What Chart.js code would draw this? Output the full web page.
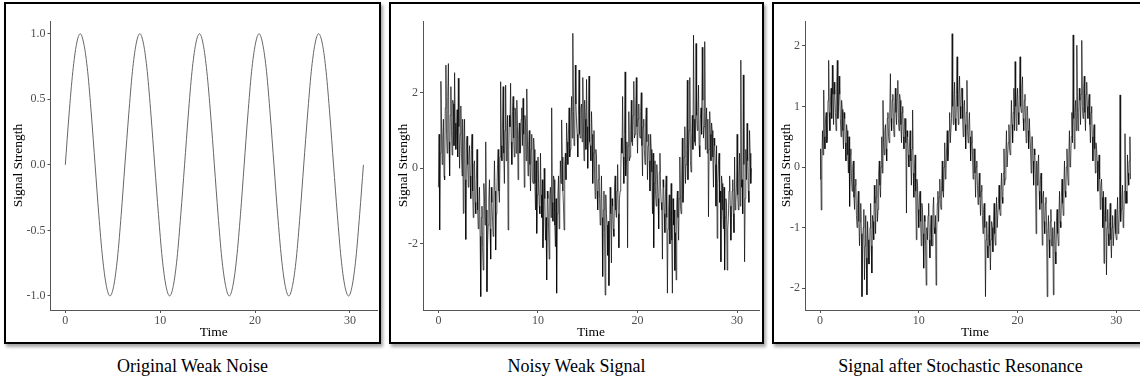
<!DOCTYPE html>
<html>
<head>
<meta charset="utf-8">
<script src="https://cdn.jsdelivr.net/npm/chart.js@4.4.1/dist/chart.umd.min.js"></script>
<style>
  html, body { margin: 0; padding: 0; background: #fff; overflow: hidden; }
  body { width: 1140px; height: 383px; position: relative; font-family: "Liberation Serif", serif; }
  .panel { position: absolute; top: 2px; height: 338px; border: 2px solid #000; box-shadow: 2px 3px 3px rgba(0,0,0,0.35); background: #fff; }
  .panel canvas { display: block; }
  .caption { position: absolute; top: 356px; font-size: 18px; text-align: center; color: #000; white-space: nowrap; }
</style>
</head>
<body>
<div class="panel" style="left:4px;width:373px"><canvas id="c1" width="373" height="338"></canvas></div>
<div class="panel" style="left:389px;width:371px"><canvas id="c2" width="371" height="338"></canvas></div>
<div class="panel" style="left:772px;width:380px"><canvas id="c3" width="380" height="338"></canvas></div>
<div class="caption" style="left:4px;width:377px">Original Weak Noise</div>
<div class="caption" style="left:389px;width:375px">Noisy Weak Signal</div>
<div class="caption" style="left:772px;width:377px">Signal after Stochastic Resonance</div>
<script>
// time axis of the clean sine (steps of pi/8)
const timeClean = [0, 0.39, 0.79, 1.18, 1.57, 1.96, 2.36, 2.75, 3.14, 3.53, 3.93, 4.32, 4.71, 5.11, 5.50, 5.89,
  6.28, 6.68, 7.07, 7.46, 7.85, 8.25, 8.64, 9.03, 9.42, 9.82, 10.21, 10.60, 11.00, 11.39, 11.78, 12.17,
  12.57, 12.96, 13.35, 13.74, 14.14, 14.53, 14.92, 15.32, 15.71, 16.10, 16.49, 16.89, 17.28, 17.67, 18.06, 18.46,
  18.85, 19.24, 19.63, 20.03, 20.42, 20.81, 21.21, 21.60, 21.99, 22.38, 22.78, 23.17, 23.56, 23.95, 24.35, 24.74,
  25.13, 25.53, 25.92, 26.31, 26.70, 27.10, 27.49, 27.88, 28.27, 28.67, 29.06, 29.45, 29.85, 30.24, 30.63, 31.02,
  31.42];
const weakSignal = [0, 0.38, 0.71, 0.92, 1, 0.92, 0.71, 0.38, 0, -0.38, -0.71, -0.92, -1, -0.92, -0.71, -0.38,
  0, 0.38, 0.71, 0.92, 1, 0.92, 0.71, 0.38, 0, -0.38, -0.71, -0.92, -1, -0.92, -0.71, -0.38,
  0, 0.38, 0.71, 0.92, 1, 0.92, 0.71, 0.38, 0, -0.38, -0.71, -0.92, -1, -0.92, -0.71, -0.38,
  0, 0.38, 0.71, 0.92, 1, 0.92, 0.71, 0.38, 0, -0.38, -0.71, -0.92, -1, -0.92, -0.71, -0.38,
  0, 0.38, 0.71, 0.92, 1, 0.92, 0.71, 0.38, 0, -0.38, -0.71, -0.92, -1, -0.92, -0.71, -0.38,
  0];

// time axis of the two noisy series (one row per time unit)
const timeNoisy = [
  0, 0.0625, 0.125, 0.1875, 0.25, 0.3125, 0.375, 0.4375, 0.5, 0.5625, 0.625, 0.6875, 0.75, 0.8125, 0.875, 0.9375,
  1, 1.0625, 1.125, 1.1875, 1.25, 1.3125, 1.375, 1.4375, 1.5, 1.5625, 1.625, 1.6875, 1.75, 1.8125, 1.875, 1.9375,
  2, 2.0625, 2.125, 2.1875, 2.25, 2.3125, 2.375, 2.4375, 2.5, 2.5625, 2.625, 2.6875, 2.75, 2.8125, 2.875, 2.9375,
  3, 3.0625, 3.125, 3.1875, 3.25, 3.3125, 3.375, 3.4375, 3.5, 3.5625, 3.625, 3.6875, 3.75, 3.8125, 3.875, 3.9375,
  4, 4.0625, 4.125, 4.1875, 4.25, 4.3125, 4.375, 4.4375, 4.5, 4.5625, 4.625, 4.6875, 4.75, 4.8125, 4.875, 4.9375,
  5, 5.0625, 5.125, 5.1875, 5.25, 5.3125, 5.375, 5.4375, 5.5, 5.5625, 5.625, 5.6875, 5.75, 5.8125, 5.875, 5.9375,
  6, 6.0625, 6.125, 6.1875, 6.25, 6.3125, 6.375, 6.4375, 6.5, 6.5625, 6.625, 6.6875, 6.75, 6.8125, 6.875, 6.9375,
  7, 7.0625, 7.125, 7.1875, 7.25, 7.3125, 7.375, 7.4375, 7.5, 7.5625, 7.625, 7.6875, 7.75, 7.8125, 7.875, 7.9375,
  8, 8.0625, 8.125, 8.1875, 8.25, 8.3125, 8.375, 8.4375, 8.5, 8.5625, 8.625, 8.6875, 8.75, 8.8125, 8.875, 8.9375,
  9, 9.0625, 9.125, 9.1875, 9.25, 9.3125, 9.375, 9.4375, 9.5, 9.5625, 9.625, 9.6875, 9.75, 9.8125, 9.875, 9.9375,
  10, 10.0625, 10.125, 10.1875, 10.25, 10.3125, 10.375, 10.4375, 10.5, 10.5625, 10.625, 10.6875, 10.75, 10.8125, 10.875, 10.9375,
  11, 11.0625, 11.125, 11.1875, 11.25, 11.3125, 11.375, 11.4375, 11.5, 11.5625, 11.625, 11.6875, 11.75, 11.8125, 11.875, 11.9375,
  12, 12.0625, 12.125, 12.1875, 12.25, 12.3125, 12.375, 12.4375, 12.5, 12.5625, 12.625, 12.6875, 12.75, 12.8125, 12.875, 12.9375,
  13, 13.0625, 13.125, 13.1875, 13.25, 13.3125, 13.375, 13.4375, 13.5, 13.5625, 13.625, 13.6875, 13.75, 13.8125, 13.875, 13.9375,
  14, 14.0625, 14.125, 14.1875, 14.25, 14.3125, 14.375, 14.4375, 14.5, 14.5625, 14.625, 14.6875, 14.75, 14.8125, 14.875, 14.9375,
  15, 15.0625, 15.125, 15.1875, 15.25, 15.3125, 15.375, 15.4375, 15.5, 15.5625, 15.625, 15.6875, 15.75, 15.8125, 15.875, 15.9375,
  16, 16.0625, 16.125, 16.1875, 16.25, 16.3125, 16.375, 16.4375, 16.5, 16.5625, 16.625, 16.6875, 16.75, 16.8125, 16.875, 16.9375,
  17, 17.0625, 17.125, 17.1875, 17.25, 17.3125, 17.375, 17.4375, 17.5, 17.5625, 17.625, 17.6875, 17.75, 17.8125, 17.875, 17.9375,
  18, 18.0625, 18.125, 18.1875, 18.25, 18.3125, 18.375, 18.4375, 18.5, 18.5625, 18.625, 18.6875, 18.75, 18.8125, 18.875, 18.9375,
  19, 19.0625, 19.125, 19.1875, 19.25, 19.3125, 19.375, 19.4375, 19.5, 19.5625, 19.625, 19.6875, 19.75, 19.8125, 19.875, 19.9375,
  20, 20.0625, 20.125, 20.1875, 20.25, 20.3125, 20.375, 20.4375, 20.5, 20.5625, 20.625, 20.6875, 20.75, 20.8125, 20.875, 20.9375,
  21, 21.0625, 21.125, 21.1875, 21.25, 21.3125, 21.375, 21.4375, 21.5, 21.5625, 21.625, 21.6875, 21.75, 21.8125, 21.875, 21.9375,
  22, 22.0625, 22.125, 22.1875, 22.25, 22.3125, 22.375, 22.4375, 22.5, 22.5625, 22.625, 22.6875, 22.75, 22.8125, 22.875, 22.9375,
  23, 23.0625, 23.125, 23.1875, 23.25, 23.3125, 23.375, 23.4375, 23.5, 23.5625, 23.625, 23.6875, 23.75, 23.8125, 23.875, 23.9375,
  24, 24.0625, 24.125, 24.1875, 24.25, 24.3125, 24.375, 24.4375, 24.5, 24.5625, 24.625, 24.6875, 24.75, 24.8125, 24.875, 24.9375,
  25, 25.0625, 25.125, 25.1875, 25.25, 25.3125, 25.375, 25.4375, 25.5, 25.5625, 25.625, 25.6875, 25.75, 25.8125, 25.875, 25.9375,
  26, 26.0625, 26.125, 26.1875, 26.25, 26.3125, 26.375, 26.4375, 26.5, 26.5625, 26.625, 26.6875, 26.75, 26.8125, 26.875, 26.9375,
  27, 27.0625, 27.125, 27.1875, 27.25, 27.3125, 27.375, 27.4375, 27.5, 27.5625, 27.625, 27.6875, 27.75, 27.8125, 27.875, 27.9375,
  28, 28.0625, 28.125, 28.1875, 28.25, 28.3125, 28.375, 28.4375, 28.5, 28.5625, 28.625, 28.6875, 28.75, 28.8125, 28.875, 28.9375,
  29, 29.0625, 29.125, 29.1875, 29.25, 29.3125, 29.375, 29.4375, 29.5, 29.5625, 29.625, 29.6875, 29.75, 29.8125, 29.875, 29.9375,
  30, 30.0625, 30.125, 30.1875, 30.25, 30.3125, 30.375, 30.4375, 30.5, 30.5625, 30.625, 30.6875, 30.75, 30.8125, 30.875, 30.9375,
  31, 31.0625, 31.125, 31.1875, 31.25, 31.3125, 31.375, 31.4375];

const noisySignal = [
  -0.5, 0.9, -1.63, 0.4, 2.3, 1.1, 0.1, 0.8, 1.3, -0.2, -0.3, 1.6, 2.73, 0.9, 0.4, 1.9,
  2.77, 0.7, -0.2, 1.4, 2.16, 1.0, 0.35, 1.8, 1.7, 0.6, 2.53, 1.2, 0.5, 0.9, 1.55, 0.3,
  2.38, 1.1, 0.0, 0.9, 1.65, 0.4, -0.2, 1.3, -1.19, 0.6, 1.3, -0.3, -1.88, 0.7, 0.85, 0.1,
  -0.5, 0.3, 0.6, -0.2, -0.8, 0.5, 0.9, -0.6, -1.3, 0.1, 0.2, -0.9, -1.2, -0.3, 0.5, -1.1,
  -1.6, -0.9, -0.5, -1.8, -3.39, -1.3, -1.0, -2.1, -2.69, -0.4, -0.8, -1.5, 0.7, -1.1, -3.26, -2.0,
  -1.5, -0.8, -0.3, -1.6, -2.4, -0.5, -0.9, -1.4, -1.8, -0.9, 0.2, -0.6, -2.16, -1.2, -0.6, 0.1,
  0.5, -0.6, -0.9, 0.3, 2.29, 0.6, 0.2, 1.2, 2.16, 0.4, -0.4, 1.0, 2.2, 0.2, 0.6, 1.4,
  -1.63, 0.5, 1.4, 1.1, 2.25, 0.7, 0.1, 1.5, 1.9, 0.8, 0.3, 1.6, 1.5, 0.4, 1.8, 1.1,
  -0.3, 0.9, 1.2, 0.4, 0.5, 1.3, 1.6, 0.6, 1.85, 0.9, -0.5, 1.4, 1.2, 0.2, 2.1, 0.8,
  -0.2, 0.6, 1.0, 0.1, -0.6, 0.5, 0.9, -0.3, -0.4, 0.8, 0.5, -0.4, -1.1, 0.2, -1.72, -0.7,
  0.3, -0.4, -1.0, -1.2, 0.4, -0.7, -1.3, -0.3, -2.1, -1.5, 0.0, -0.8, -1.9, -1.3, -2.95, -0.6,
  -0.8, -1.6, -2.4, -0.7, -0.5, -1.3, 1.6, -0.9, -1.4, -0.2, -0.3, -1.5, -2.07, -0.8, -3.3, -1.2,
  -0.7, -0.2, -1.6, -0.9, 0.2, -0.4, 1.28, 0.3, -0.6, -1.0, -1.63, 0.1, 0.4, -0.3, 1.2, 0.7,
  0.1, 0.9, 1.6, 0.3, 0.5, 1.2, 1.9, 0.8, 3.57, 1.5, 0.6, 0.7, 2.73, 1.7, 1.2, 0.9,
  0.3, 1.4, 2.6, 0.9, 0.8, 1.6, 1.7, 0.7, 2.4, 1.2, 0.2, 1.8, 1.3, 0.5, 2.35, 1.1,
  0.0, 1.2, 2.44, 0.7, 0.6, 0.2, 1.5, 0.9, -0.4, 0.4, 1.0, -0.2, -0.8, 0.5, 0.3, -0.6,
  -1.1, -0.3, 0.1, -0.8, -1.5, -0.9, -0.2, -1.3, -2.86, -1.1, -0.6, -1.7, -3.35, -0.7, -1.2, -1.5,
  -2.3, -1.4, -3.1, -1.9, -0.5, -1.2, -2.5, -0.8, -1.0, -1.6, -1.8, -0.5, -0.2, -1.1, -1.3, -0.6,
  0.1, -1.2, -2.1, -0.8, -0.6, -0.2, 0.8, 0.4, 1.9, 0.3, -0.4, 0.9, 2.55, -0.2, 0.2, 0.7,
  -2.1, 0.6, 1.5, 0.2, 0.3, 1.0, 1.8, 0.7, 0.6, 1.4, 2.3, 0.8, 0.9, 1.6, 2.4, 1.1,
  0.4, 1.3, 1.7, 0.9, 0.8, 1.5, 2.0, 0.6, -0.2, 1.1, 1.3, 0.5, 0.1, 1.2, 1.6, 0.7,
  -0.3, 0.6, 0.9, 0.2, -0.6, 0.9, 0.5, -0.1, -1.2, 0.4, -2.1, -0.4, 0.2, -0.7, -1.0, 0.1,
  -0.3, -0.8, -1.6, -0.1, 0.4, -0.5, -0.9, -1.1, -2.4, -0.3, -0.5, -1.2, -1.7, -0.6, -0.2, -1.3,
  -3.3, -1.6, -1.1, -0.7, -2.0, -1.3, -0.4, -1.9, -3.3, -0.8, -1.5, -1.1, -2.7, -1.7, -2.95, -0.9,
  -0.6, -1.3, -1.9, -0.8, 0.3, -1.0, -1.2, -0.2, 0.8, -0.9, -0.5, 0.3, 1.1, -0.4, 0.1, 0.5,
  2.33, -0.3, 0.4, 1.0, 2.4, 0.2, -0.1, 0.8, 1.4, 0.5, 3.52, 1.3, 0.7, 0.6, 3.3, 1.4,
  1.0, 1.5, 2.2, 0.6, 0.3, 1.3, 1.6, 0.9, 3.2, 1.8, 0.8, 1.1, 3.35, 0.5, 1.2, 1.6,
  0.4, 1.3, -1.28, 0.5, 1.5, 0.9, 0.2, 1.2, 1.0, 0.3, -0.5, 0.8, 0.6, 0.1, -1.0, 0.6,
  -1.85, -0.4, 0.1, 0.4, -0.9, -0.6, -2.47, -0.2, -0.4, -1.1, -1.6, -0.5, -2.69, -1.3, -0.8, -0.9,
  -2.69, -1.6, -1.3, -0.6, -0.2, -1.0, -1.9, -1.3, -0.6, -0.3, -1.2, -1.7, 0.3, -1.1, -0.9, -0.5,
  0.9, -0.7, -1.1, -0.2, 0.4, -1.0, 2.86, -0.5, -0.3, -1.2, 2.47, 0.1, -2.47, -0.8, 0.5, -0.3,
  1.19, 0.2, -0.6, -0.9, 1.0, 0.4, -0.4, 0.0];

const resonanceSignal = [
  -0.2, 0.3, -0.71, 0.1, 0.6, 0.2, 1.27, 0.5, 0.3, 0.8, 0.9, 0.4, 0.45, 1.1, 1.76, 0.9,
  0.6, 1.1, 1.3, 0.8, 1.68, 1.2, 0.7, 1.4, 1.2, 0.9, 0.6, 1.3, 1.76, 0.8, 1.0, 1.5,
  1.2, 0.8, 0.5, 1.1, 0.95, 0.6, 0.3, 0.9, 0.8, 0.4, 0.1, 0.7, 0.6, 0.2, -0.1, 0.5,
  -0.65, 0.2, 0.3, -0.2, -0.4, 0.0, 0.1, -0.5, -0.7, -0.3, -0.2, -0.8, -1.0, -0.6, -0.4, -0.9,
  -1.3, -0.9, -0.6, -1.1, -2.14, -1.4, -1.0, -0.7, -1.86, -1.3, -0.8, -1.5, -2.11, -0.9, -1.2, -1.6,
  -1.6, -1.0, -0.6, -1.3, -1.75, -0.8, -0.9, -1.2, -0.3, -0.6, -1.1, -0.5, -0.2, -0.9, -0.7, -0.1,
  0.1, -0.3, -0.5, 0.0, 0.5, -0.1, 1.1, 0.4, 0.2, 0.6, 0.7, 0.3, 0.1, 0.8, 0.9, 0.5,
  0.4, 0.9, 1.54, 0.8, 0.6, 1.1, 1.2, 0.7, 0.5, 1.0, 1.3, 0.9, 0.7, 1.2, 1.43, 0.8,
  0.6, 1.2, 1.1, 0.7, 0.4, 0.9, 1.0, 0.5, 0.3, 0.8, 0.8, 0.4, -0.76, 0.6, 0.5, 0.2,
  0.0, 0.4, 0.6, 0.1, -0.3, 0.3, 0.94, -0.1, -0.5, 0.0, 0.2, -0.4, -1.2, -0.2, -0.3, -0.7,
  -1.0, -0.5, -0.4, -0.9, -1.3, -0.6, -0.7, -1.1, -1.67, -0.8, -0.9, -1.3, -1.95, -1.0, -1.2, -0.8,
  -0.6, -1.2, -1.5, -1.0, -0.8, -1.3, -1.3, -0.7, -0.5, -1.0, -1.1, -0.8, -1.95, -1.1, -0.6, -0.4,
  -0.9, -0.5, -0.2, -0.6, -0.7, -0.3, 0.1, -0.4, -0.5, 0.0, 0.4, -0.2, -0.1, 0.3, 0.6, 0.1,
  0.2, 0.6, 0.9, 0.4, 0.4, 0.8, 2.2, 1.0, 0.7, 1.1, 1.4, 0.8, 0.6, 1.2, 1.82, 1.0,
  0.7, 1.2, 1.5, 1.0, 0.8, 1.3, 1.3, 0.8, 0.5, 1.0, 1.1, 0.7, 0.3, 0.9, 1.43, 0.6,
  0.4, 0.7, 0.9, 0.5, 0.1, 0.4, 0.6, 0.2, -0.2, 0.3, 0.3, -0.1, -0.5, 0.0, 0.1, -0.3,
  -0.62, -0.3, -0.1, -0.5, -0.8, -0.4, -0.3, -0.8, -1.1, -0.7, -0.6, -1.0, -2.14, -1.2, -0.9, -1.3,
  -1.5, -1.1, -0.8, -1.3, -1.7, -1.2, -0.9, -1.0, -1.4, -0.9, -0.6, -1.1, -1.29, -0.8, -0.5, -1.0,
  -1.0, -0.6, -0.3, -0.7, -0.8, -0.4, -0.1, -0.5, -0.6, -0.1, 0.3, -0.3, -0.2, 0.2, 0.6, 0.0,
  0.0, 0.4, 0.7, 0.3, 0.2, 0.6, 1.1, 0.7, 0.4, 0.9, 1.3, 0.6, 1.74, 1.0, 0.6, 1.1,
  1.3, 0.9, 0.7, 1.2, 1.82, 1.0, 0.9, 1.3, 1.49, 0.8, 0.6, 1.1, 1.2, 0.7, 0.4, 1.0,
  1.0, 0.6, 0.3, 0.8, 0.8, 0.3, -0.1, 0.5, 0.5, 0.1, -0.3, 0.3, 0.2, -0.2, -1.1, 0.1,
  -0.3, 0.0, 0.2, -0.4, -0.7, -0.2, -0.1, -0.6, -1.29, -0.5, -0.4, -0.9, -1.1, -0.6, -0.5, -1.0,
  -2.14, -1.1, -0.8, -1.2, -1.5, -0.9, -0.7, -1.3, -1.3, -1.0, -2.11, -1.2, -0.9, -1.4, -1.6, -0.9,
  -0.7, -1.1, -1.3, -0.8, -0.4, -0.9, -1.0, -0.5, -0.2, -0.6, -0.8, -0.3, 0.1, -0.4, -0.5, 0.0,
  0.3, -0.1, -0.3, 0.2, 0.6, 0.0, 0.1, 0.5, 0.9, 0.4, 2.18, 0.8, 0.3, 0.9, 1.1, 0.6,
  2.01, 1.0, 0.6, 0.9, 1.3, 1.1, 0.7, 1.2, 2.09, 1.0, 0.8, 1.3, 1.5, 0.9, 0.6, 1.2,
  1.4, 1.0, 0.8, 1.1, 1.2, 0.7, 0.4, 0.9, 1.0, 0.5, 0.1, 0.6, 0.7, 0.3, -0.1, 0.4,
  0.3, 0.1, -0.4, 0.0, 0.2, -0.2, -0.7, -0.3, -0.2, -0.5, -1.0, -0.4, -1.59, -0.8, -0.5, -0.9,
  -1.78, -1.0, -0.7, -1.1, -1.3, -0.9, -0.6, -1.2, -1.5, -1.0, -0.8, -1.3, -1.3, -0.9, -0.7, -1.1,
  -1.2, -0.8, -0.5, -1.1, -1.0, -0.7, 1.19, -0.9, -0.7, -0.5, -0.3, -1.0, -0.87, -0.4, 0.55, -0.6,
  -0.4, -0.6, 0.2, -0.1, -0.3, 0.1, 0.5, -0.2];

const timeTicks = [0, 10, 20, 30];
const weakTicks = [-1, -0.5, 0, 0.5, 1];
const noisyTicks = [-2, 0, 2];
const resonanceTicks = [-2, -1, 0, 1, 2];

const serif = 'Liberation Serif';

function drawPanel(id, xs, ys, o) {
  const axisGrid = { drawOnChartArea: false, drawTicks: true, tickLength: 3, color: '#555', lineWidth: 1 };
  const axisBorder = { display: true, color: '#555', width: 1 };
  new Chart(document.getElementById(id), {
    type: 'line',
    data: {
      datasets: [{
        data: xs.map((t, i) => ({ x: t, y: ys[i] })),
        borderColor: o.color,
        borderWidth: o.width,
        pointRadius: 0,
        tension: 0,
        cubicInterpolationMode: o.smooth ? 'monotone' : 'default'
      }]
    },
    options: {
      responsive: false,
      animation: false,
      events: [],
      layout: { padding: { left: 0, top: 17, right: o.padR, bottom: 0 } },
      plugins: { legend: { display: false }, tooltip: { enabled: false } },
      scales: {
        x: {
          type: 'linear', min: o.xMin, max: o.xMax,
          afterBuildTicks: s => { s.ticks = timeTicks.map(v => ({ value: v })); },
          afterFit: s => { s.height = 32; },
          grid: axisGrid, border: axisBorder,
          ticks: { autoSkip: false, maxRotation: 0, padding: 1, color: '#4d4d4d', font: { family: serif, size: 12 } },
          title: { display: true, text: 'Time', color: '#000', font: { family: serif, size: 13.5 }, padding: { top: 0, bottom: 1 } }
        },
        y: {
          type: 'linear', min: o.yMin, max: o.yMax,
          afterBuildTicks: s => { s.ticks = o.yTicks.map(v => ({ value: v })); },
          afterFit: s => { s.width = o.yW; },
          grid: axisGrid, border: axisBorder,
          ticks: { padding: 2, color: '#4d4d4d', font: { family: serif, size: 12 }, callback: o.fmt },
          title: { display: true, text: 'Signal Strength', color: '#000', font: { family: serif, size: 13.5 }, padding: { top: 4, bottom: 0 } }
        }
      }
    }
  });
}

drawPanel('c1', timeClean, weakSignal, {
  color: '#666', width: 1, smooth: true, padR: 2, yW: 44.5,
  xMin: -1.56, xMax: 32.85, yMin: -1.107, yMax: 1.097, yTicks: weakTicks,
  fmt: v => v.toFixed(1)
});
drawPanel('c2', timeNoisy, noisySignal, {
  color: 'rgba(0,0,0,0.85)', width: 0.8, smooth: false, padR: 3, yW: 32,
  xMin: -1.55, xMax: 32.2, yMin: -3.745, yMax: 3.895, yTicks: noisyTicks,
  fmt: v => String(v)
});
drawPanel('c3', timeNoisy, resonanceSignal, {
  color: 'rgba(0,0,0,0.85)', width: 0.8, smooth: false, padR: 9, yW: 31,
  xMin: -1.52, xMax: 32.9, yMin: -2.36, yMax: 2.41, yTicks: resonanceTicks,
  fmt: v => String(v)
});
</script>
</body>
</html>
